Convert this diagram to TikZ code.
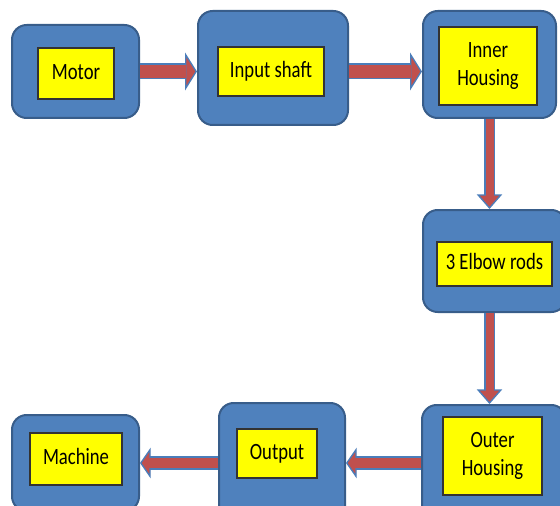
\documentclass[tikz,border=0pt]{standalone}
\usepackage{fontspec}
\setmainfont{Carlito}
\usetikzlibrary{arrows.meta}

\definecolor{boxblue}{HTML}{4F81BD}
\definecolor{boxedge}{HTML}{385D8A}
\definecolor{labelyellow}{HTML}{FFFF00}
\definecolor{arrowred}{HTML}{C0504D}
\definecolor{arrowblue}{HTML}{4A7DBA}

\newcommand{\tallText}[1]{\scalebox{1}[1.25]{\begin{tabular}{@{}c@{}}#1\end{tabular}}}

\tikzset{
  unit/.style={draw=boxedge, fill=boxblue, line width=1.5pt, rounded corners=11pt},
  tag/.style={draw=black!80, fill=labelyellow, line width=0.8pt, align=center,
    font=\fontsize{14}{17}\selectfont},
  flow/.style n args={3}{draw=arrowblue, line width=#1,
    -{Triangle[length=#3, width=#2, line width=1pt, fill=arrowred]},
    postaction={draw=arrowred, line width=#1-2pt, -, shorten >=#3-1pt}}
}

\begin{document}
\begin{tikzpicture}[x=0.75pt, y=-0.75pt]
\useasboundingbox (0,0) rectangle (560,506);

% blue blocks
\node[unit, minimum width=95.25pt, minimum height=69.75pt] (motor) at (75.5,71.5) {};
\node[unit, minimum width=112.5pt, minimum height=85.5pt] (input) at (273,68) {};
\node[unit, minimum width=99.75pt, minimum height=80.25pt] (inner) at (489.5,64.5) {};
\node[unit, minimum width=107.25pt, minimum height=76.5pt] (elbow) at (494.5,261) {};
\node[unit, minimum width=108pt, minimum height=87pt] (outer) at (494,463) {};
\node[unit, minimum width=94.5pt, minimum height=90pt] (output) at (282,463) {};
\node[unit, minimum width=95.25pt, minimum height=72pt] (machine) at (75.5,463) {};

% yellow labels
\node[tag, minimum width=57pt, minimum height=38.25pt] (motortag) at (76,73.5) {\tallText{Motor}};
\node[tag, minimum width=79.5pt, minimum height=36.75pt] (inputtag) at (271,71.5) {\tallText{Input shaft}};
\node[tag, minimum width=73.5pt, minimum height=58.5pt] (innertag) at (488,66) {\tallText{Inner\\Housing}};
\node[tag, minimum width=86.25pt, minimum height=33pt] (elbowtag) at (494.5,264) {\tallText{3 Elbow rods}};
\node[tag, minimum width=74.25pt, minimum height=58.5pt] (outertag) at (492.5,456) {\tallText{Outer\\Housing}};
\node[tag, minimum width=60pt, minimum height=36.75pt] (outputtag) at (277,453.5) {\tallText{Output}};
\node[tag, minimum width=69pt, minimum height=39pt] (machinetag) at (76,459) {\tallText{Machine}};

% block arrows
\draw[flow={12pt}{28.5pt}{9pt}] (motor) -- (motor -| input.west);
\draw[flow={12pt}{28.5pt}{9pt}] (input.east |- motor) -- (motor -| inner.west);
\draw[flow={8pt}{19pt}{11pt}] (inner) -- (inner |- elbow.north);
\draw[flow={8pt}{19pt}{11pt}] (elbow.south -| inner) -- (inner |- outer.north);
\draw[flow={10pt}{23pt}{8pt}] (outer) -- (output);
\draw[flow={10pt}{23pt}{8pt}] (output) -- (machine);

\end{tikzpicture}
\end{document}
